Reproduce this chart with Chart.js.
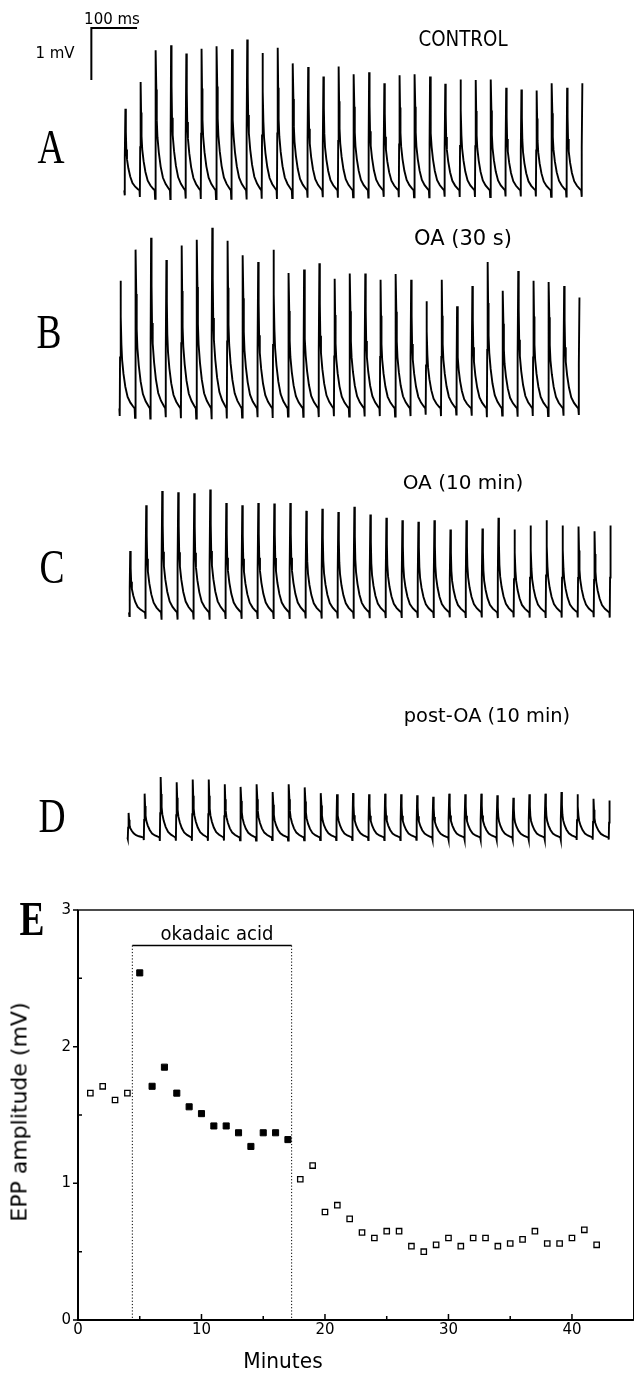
<!DOCTYPE html>
<html>
<head>
<meta charset="utf-8">
<script src="https://cdn.jsdelivr.net/npm/chart.js@4/dist/chart.umd.min.js"></script>
<style>
  html, body { margin: 0; padding: 0; background: #fff; }
  #page { position: relative; width: 634px; height: 1374px; overflow: hidden; background: #fff; }
  canvas { position: absolute; left: 0; }
  .lbl { position: absolute; transform: translate(-50%, -50%); white-space: nowrap; color: #000; font-family: "DejaVu Sans", sans-serif; }
  .panel { position: absolute; transform: translate(-50%, -50%) scaleX(0.78); font-family: "Liberation Serif", serif; font-size: 48px; line-height: 1; color: #000; }
</style>
</head>
<body>
<div id="page">
  <canvas id="traceA" width="634" height="203"></canvas>
  <canvas id="traceB" width="634" height="203"></canvas>
  <canvas id="traceC" width="634" height="203"></canvas>
  <canvas id="traceD" width="634" height="203"></canvas>
  <canvas id="chartE" width="639" height="494" style="top:880px"></canvas>

  <div class="lbl" style="left:112px;top:19px;font-size:15px">100 ms</div>
  <div class="lbl" style="left:55px;top:53px;font-size:15px">1 mV</div>

  <div class="lbl" style="left:463px;top:39px;font-size:21px;transform:translate(-50%,-50%) scaleX(0.87)">CONTROL</div>
  <div class="lbl" style="left:463px;top:238px;font-size:21px">OA (30 s)</div>
  <div class="lbl" style="left:463px;top:482px;font-size:20px">OA (10 min)</div>
  <div class="lbl" style="left:487px;top:715px;font-size:20px;transform:translate(-50%,-50%) scaleX(0.97)">post-OA (10 min)</div>

  <div class="panel" style="left:51px;top:147px">A</div>
  <div class="panel" style="left:49px;top:332px">B</div>
  <div class="panel" style="left:52px;top:567px">C</div>
  <div class="panel" style="left:52px;top:816px">D</div>
  <div class="panel" style="left:32px;top:919px;font-weight:bold">E</div>

  <div class="lbl" style="left:217px;top:933px;font-size:19px;transform:translate(-50%,-50%) scaleX(0.95)">okadaic acid</div>
  <div class="lbl" style="left:19px;top:1112px;font-size:22px;transform:translate(-50%,-50%) rotate(-90deg)">EPP amplitude (mV)</div>
  <div class="lbl" style="left:283px;top:1361px;font-size:21px;transform:translate(-50%,-50%) scaleX(0.96)">Minutes</div>
</div>

<script>
// ---- traces A-D: peak amplitude (mV) of each of the 31 EPPs (30 Hz, 1 s) ----
const peaksA = [1.57, 2.08, 2.69, 2.79, 2.63, 2.72, 2.77, 2.71, 2.90, 2.64, 2.74, 2.44, 2.37, 2.19, 2.38, 2.23,
  2.27, 2.06, 2.21, 2.23, 2.19, 2.05, 2.13, 2.12, 2.13, 1.97, 1.94, 1.92, 2.06, 1.97, 2.06];
const peaksB = [2.45, 3.05, 3.28, 2.85, 3.13, 3.24, 3.47, 3.22, 2.94, 2.81, 3.05, 2.60, 2.67, 2.79, 2.49, 2.59,
  2.59, 2.47, 2.58, 2.47, 2.06, 2.47, 1.96, 2.35, 2.81, 2.26, 2.64, 2.45, 2.43, 2.35, 2.13];
const peaksC = [1.18, 2.06, 2.33, 2.31, 2.29, 2.36, 2.10, 2.06, 2.10, 2.09, 2.10, 1.95, 1.99, 1.93, 2.03, 1.88,
  1.82, 1.77, 1.74, 1.77, 1.59, 1.77, 1.61, 1.82, 1.59, 1.67, 1.77, 1.67, 1.65, 1.56, 1.67];
const peaksD = [0.47, 0.84, 1.16, 1.06, 1.11, 1.11, 1.02, 0.97, 1.02, 0.87, 1.02, 0.96, 0.85, 0.83, 0.85, 0.83,
  0.84, 0.83, 0.81, 0.78, 0.84, 0.83, 0.84, 0.81, 0.76, 0.83, 0.84, 0.87, 0.83, 0.74, 0.71];

// one EPP: time after stimulus (ms) and fraction of peak
const spikeMs    = [0, 0.8, 1.5, 2.5, 3.5, 4.5, 6, 9, 13, 18, 24, 30];
const spikeShape = [0, -0.06, 0.4, 1, 0.72, 0.5, 0.38, 0.27, 0.17, 0.09, 0.045, 0.015];
const peakMs = 2.5;
const stimIntervalMs = 33.33;

// scale bar: 100 ms, 1 mV, corner position in trace A units
const barMs = 100, barMv = 1, barStartMs = -72, barTopMv = 3.12;

// ---- panel E ----
const minutesCtrl = [1, 2, 3, 4];
const ampCtrl = [1.66, 1.71, 1.61, 1.66];
const minutesOA = [5, 6, 7, 8, 9, 10, 11, 12, 13, 14, 15, 16, 17];
const ampOA = [2.54, 1.71, 1.85, 1.66, 1.56, 1.51, 1.42, 1.42, 1.37, 1.27, 1.37, 1.37, 1.32];
const minutesWash = [18, 19, 20, 21, 22, 23, 24, 25, 26, 27, 28, 29, 30, 31, 32, 33, 34, 35, 36, 37, 38, 39, 40, 41, 42];
const ampWash = [1.03, 1.13, 0.79, 0.84, 0.74, 0.64, 0.60, 0.65, 0.65, 0.54, 0.50, 0.55, 0.60, 0.54, 0.60, 0.60,
  0.54, 0.56, 0.59, 0.65, 0.56, 0.56, 0.60, 0.66, 0.55];
const oaStart = 4.4, oaEnd = 17.3, oaBarMv = 2.74;
const xTicksMajor = [0, 10, 20, 30, 40];
const xTicksMinor = [5, 15, 25, 35];
const yTicksMajor = [0, 1, 2, 3];
const yTicksMinor = [0.5, 1.5, 2.5];

Chart.defaults.animation = false;
Chart.defaults.font.family = "'DejaVu Sans', sans-serif";
Chart.defaults.color = "#000";

function traceData(peaks) {
  const pts = [];
  peaks.forEach(function (amp, i) {
    const last = i === peaks.length - 1;
    spikeMs.forEach(function (dt, j) {
      if (last && dt > peakMs) return;
      pts.push({ x: i * stimIntervalMs + dt, y: amp * spikeShape[j] });
    });
  });
  return pts;
}

// layout of each trace on the page (pixels)
const pxPerMv = 52, mvMin = -0.3, mvMax = 3.6;
const traceLayout = {
  traceA: { peaks: peaksA, baseline: 190, firstPeakX: 125.4, pxPerMs: 0.457 },
  traceB: { peaks: peaksB, baseline: 408, firstPeakX: 120.5, pxPerMs: 0.459 },
  traceC: { peaks: peaksC, baseline: 612, firstPeakX: 130.2, pxPerMs: 0.4804 },
  traceD: { peaks: peaksD, baseline: 837, firstPeakX: 128.6, pxPerMs: 0.481 },
};

Object.keys(traceLayout).forEach(function (id) {
  const L = traceLayout[id];
  const canvas = document.getElementById(id);
  canvas.style.top = (L.baseline - mvMax * pxPerMv) + "px";
  const x0 = L.firstPeakX - peakMs * L.pxPerMs;
  const datasets = [{
    data: traceData(L.peaks),
    borderColor: "#000",
    borderWidth: 1.9,
    pointRadius: 0,
    tension: 0,
  }];
  if (id === "traceA") {
    datasets.push({
      data: [
        { x: barStartMs, y: barTopMv - barMv },
        { x: barStartMs, y: barTopMv },
        { x: barStartMs + barMs, y: barTopMv },
      ],
      borderColor: "#000",
      borderWidth: 2,
      pointRadius: 0,
    });
  }
  new Chart(canvas, {
    type: "line",
    data: { datasets: datasets },
    options: {
      responsive: false,
      devicePixelRatio: 1,
      layout: { padding: 0 },
      plugins: { legend: { display: false }, tooltip: { enabled: false } },
      scales: {
        x: { type: "linear", display: false, min: -x0 / L.pxPerMs, max: (634 - x0) / L.pxPerMs },
        y: { display: false, min: mvMin, max: mvMax },
      },
    },
  });
});

// frame and tick marks for panel E
const frameTicks = {
  id: "frameTicks",
  afterDraw(chart) {
    const ctx = chart.ctx, a = chart.chartArea;
    const xs = chart.scales.x, ys = chart.scales.y;
    ctx.save();
    ctx.strokeStyle = "#000";
    ctx.lineWidth = 1.4;
    ctx.strokeRect(a.left, a.top, a.right - a.left, a.bottom - a.top);
    ctx.lineWidth = 2;
    ctx.beginPath();
    ctx.moveTo(a.left, a.top);
    ctx.lineTo(a.left, a.bottom);
    ctx.lineTo(a.right, a.bottom);
    ctx.stroke();
    ctx.lineWidth = 1.5;
    ctx.beginPath();
    xTicksMajor.forEach(function (v) { const p = xs.getPixelForValue(v); ctx.moveTo(p, a.bottom); ctx.lineTo(p, a.bottom - 6); });
    xTicksMinor.forEach(function (v) { const p = xs.getPixelForValue(v); ctx.moveTo(p, a.bottom); ctx.lineTo(p, a.bottom - 4); });
    yTicksMajor.forEach(function (v) { const p = ys.getPixelForValue(v); ctx.moveTo(a.left, p); ctx.lineTo(a.left - 5, p); });
    yTicksMinor.forEach(function (v) { const p = ys.getPixelForValue(v); ctx.moveTo(a.left, p); ctx.lineTo(a.left + 4, p); });
    ctx.stroke();
    ctx.restore();
  },
};

new Chart(document.getElementById("chartE"), {
  type: "scatter",
  data: {
    datasets: [
      {
        data: minutesCtrl.map((m, i) => ({ x: m, y: ampCtrl[i] })),
        pointStyle: "rect", pointRadius: 3.8, borderWidth: 1.3,
        backgroundColor: "#fff", borderColor: "#000",
      },
      {
        data: minutesOA.map((m, i) => ({ x: m, y: ampOA[i] })),
        pointStyle: "rect", pointRadius: 4.3, borderWidth: 1,
        backgroundColor: "#000", borderColor: "#000",
      },
      {
        data: minutesWash.map((m, i) => ({ x: m, y: ampWash[i] })),
        pointStyle: "rect", pointRadius: 3.8, borderWidth: 1.3,
        backgroundColor: "#fff", borderColor: "#000",
      },
      {
        // okadaic acid bar
        type: "line",
        data: [{ x: oaStart, y: oaBarMv }, { x: oaEnd, y: oaBarMv }],
        borderColor: "#000", borderWidth: 1.6, pointRadius: 0,
      },
      {
        type: "line",
        data: [{ x: oaStart, y: oaBarMv }, { x: oaStart, y: 0 }],
        borderColor: "#000", borderWidth: 1, borderDash: [1.2, 2], pointRadius: 0,
      },
      {
        type: "line",
        data: [{ x: oaEnd, y: oaBarMv }, { x: oaEnd, y: 0 }],
        borderColor: "#000", borderWidth: 1, borderDash: [1.2, 2], pointRadius: 0,
      },
    ],
  },
  options: {
    responsive: false,
    devicePixelRatio: 1,
    layout: { padding: { top: 30, right: 0, left: 0, bottom: 0 } },
    plugins: { legend: { display: false }, tooltip: { enabled: false } },
    scales: {
      x: {
        type: "linear", min: 0, max: 45,
        afterFit(s) { s.height = 54; },
        grid: { display: false, drawTicks: false },
        border: { display: false },
        ticks: {
          stepSize: 10, padding: 1, maxRotation: 0, includeBounds: false,
          font: { size: 15 },
          callback: (v) => (xTicksMajor.includes(v) ? String(v) : ""),
        },
      },
      y: {
        min: 0, max: 3,
        afterFit(s) { s.width = 78; },
        grid: { display: false, drawTicks: false },
        border: { display: false },
        ticks: {
          stepSize: 1, padding: 7,
          font: { size: 15 },
          callback: (v) => String(v),
        },
      },
    },
  },
  plugins: [frameTicks],
});
</script>
</body>
</html>
